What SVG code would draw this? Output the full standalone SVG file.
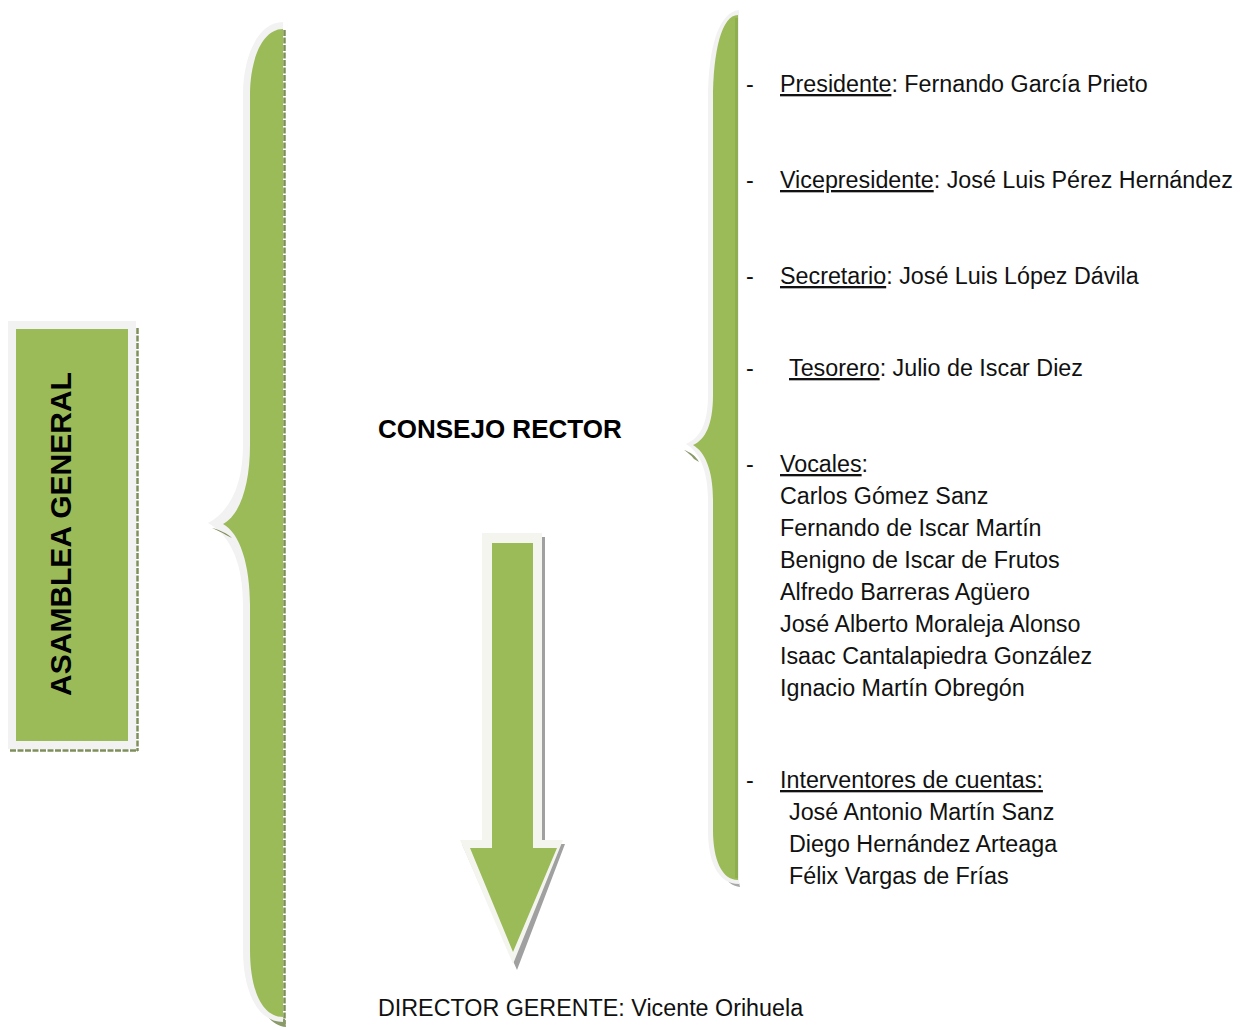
<svg xmlns="http://www.w3.org/2000/svg" width="1240" height="1030" viewBox="0 0 1240 1030">
<style>
.t{font-family:"Liberation Sans",Arial,sans-serif;font-size:23.3px;fill:#111}
.b{font-family:"Liberation Sans",Arial,sans-serif;font-weight:bold;fill:#000}
.g{fill:#9bbb59}
.o{fill:#f2f2f2}
.sh{fill:none;stroke:#7d8f5a;stroke-width:2.5;stroke-dasharray:6 1.5}
</style>
<rect width="1240" height="1030" fill="#fff"/>
<g id="asamblea-general">
  <line class="sh" x1="137.5" y1="328" x2="137.5" y2="751"/>
  <line class="sh" x1="10" y1="750.5" x2="138" y2="750.5"/>
  <rect class="o" x="8" y="321" width="128" height="428"/>
  <rect class="g" x="16" y="329" width="112" height="412"/>
  <text class="b" font-size="30" text-anchor="middle" transform="translate(71 534) rotate(-90)">ASAMBLEA GENERAL</text>
</g>
<g id="connectors">
  <g id="brace-left">
    <line class="sh" x1="284.5" y1="30" x2="284.5" y2="1024"/>
    <path d="M 285 1019 C 262 1019 248 996 245 960 L 247 960 C 252 996 266 1026 286 1027 Z" fill="#8a9a6a"/>
    <path class="o" d="M 283 22 C 258 22 243 56 243 95 L 243 445 C 243 482 232 510 208 523 C 232 536 243 566 243 605 L 243 950 C 243 992 258 1022 283 1022 Z"/>
    <path d="M 212 528 C 220 530 228 534 232 538 L 226 535 C 222 532 216 530 212 528 Z" fill="#7d8f5a"/>
    <path class="g" d="M 283 29 C 262 29 250 60 250 95 L 250 445 C 250 485 240 515 223 524 C 240 533 250 565 250 605 L 250 950 C 250 990 262 1017 283 1017 Z"/>
  </g>
  <g id="brace-right">
    <path d="M 738 878 C 722 880 712 862 710 840 L 712 840 C 716 868 726 886 740 887 Z" fill="#a8a8a8"/>
    <path class="o" d="M 739 10 C 718 12 708 50 708 100 L 708 395 C 708 424 700 438 686 444 C 700 452 708 472 708 500 L 708 830 C 708 862 718 884 739 884 Z"/>
    <path d="M 684 450 C 690 452 696 456 699 462 L 694 459 C 691 455 688 453 684 450 Z" fill="#8a9a6a"/>
    <path class="g" d="M 738 15 C 722 15 713 50 713 100 L 713 395 C 713 425 705 440 693 445 C 705 452 713 470 713 500 L 713 830 C 713 860 722 880 738 880 Z"/>
    <rect x="735" y="18" width="3" height="860" fill="#8fae4f"/>
  </g>
  <g id="arrow-down">
    <path d="M 486 537 L 545 537 L 545 844 L 565 844 L 517 970 L 462 844 L 486 844 Z" fill="#a0a0a0"/>
    <path d="M 482 533 L 542 533 L 542 840 L 563 840 L 513 964 L 460 840 L 482 840 Z" fill="#f5f5f0"/>
    <path class="g" d="M 492 543 L 533 543 L 533 848 L 557 848 L 513 952 L 470 848 L 492 848 Z"/>
  </g>
</g>
<g id="consejo-rector">
  <text class="b" font-size="26" x="378" y="438">CONSEJO RECTOR</text>
</g>
<g id="miembros">
  <text class="t" x="746" y="92">-</text>
  <text class="t" x="780" y="92"><tspan text-decoration="underline">Presidente</tspan>: Fernando García Prieto</text>
  <text class="t" x="746" y="188">-</text>
  <text class="t" x="780" y="188"><tspan text-decoration="underline">Vicepresidente</tspan>: José Luis Pérez Hernández</text>
  <text class="t" x="746" y="284">-</text>
  <text class="t" x="780" y="284"><tspan text-decoration="underline">Secretario</tspan>: José Luis López Dávila</text>
  <text class="t" x="746" y="376">-</text>
  <text class="t" x="789" y="376"><tspan text-decoration="underline">Tesorero</tspan>: Julio de Iscar Diez</text>
  <text class="t" x="746" y="472">-</text>
  <text class="t" x="780" y="472"><tspan text-decoration="underline">Vocales</tspan>:</text>
  <text class="t" x="780" y="504">Carlos Gómez Sanz</text>
  <text class="t" x="780" y="536">Fernando de Iscar Martín</text>
  <text class="t" x="780" y="568">Benigno de Iscar de Frutos</text>
  <text class="t" x="780" y="600">Alfredo Barreras Agüero</text>
  <text class="t" x="780" y="632">José Alberto Moraleja Alonso</text>
  <text class="t" x="780" y="664">Isaac Cantalapiedra González</text>
  <text class="t" x="780" y="696">Ignacio Martín Obregón</text>
  <text class="t" x="746" y="788">-</text>
  <text class="t" x="780" y="788"><tspan text-decoration="underline">Interventores de cuentas:</tspan></text>
  <text class="t" x="789" y="820">José Antonio Martín Sanz</text>
  <text class="t" x="789" y="852">Diego Hernández Arteaga</text>
  <text class="t" x="789" y="884">Félix Vargas de Frías</text>
</g>
<g id="director-gerente">
  <text class="t" x="378" y="1016">DIRECTOR GERENTE: Vicente Orihuela</text>
</g>
</svg>
